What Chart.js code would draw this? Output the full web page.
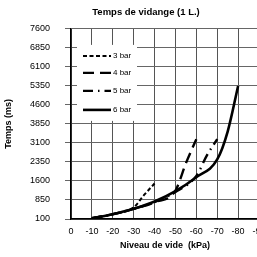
<!DOCTYPE html>
<html>
<head>
<meta charset="utf-8">
<script src="https://cdn.jsdelivr.net/npm/chart.js@4.4.1/dist/chart.umd.min.js"></script>
<style>
  html, body { margin: 0; padding: 0; background: #fff; overflow: hidden; }
  #wrap { width: 292px; height: 257px; }
</style>
</head>
<body>
<div id="wrap"><canvas id="myChart" width="292" height="257"></canvas></div>
<script>
// values (kPa -> ms)
const labels = ['3 bar', '4 bar', '5 bar', '6 bar'];
const vide3 = [-10, -20, -30, -35, -40];
const temps3 = [130, 290, 560, 1050, 1500];
const vide4 = [-10, -20, -30, -40, -50, -55, -60];
const temps4 = [130, 290, 500, 760, 1220, 2300, 3250];
const vide5 = [-10, -20, -30, -40, -50, -60, -65, -70];
const temps5 = [130, 290, 500, 770, 1170, 1800, 2600, 3250];
const vide6 = [-10, -20, -30, -40, -50, -60, -70, -75, -80];
const temps6 = [130, 290, 500, 790, 1200, 1750, 2450, 3550, 5350];
const yTicks = [100, 850, 1600, 2350, 3100, 3850, 4600, 5350, 6100, 6850, 7600];

const FONT = '"Liberation Sans", Arial, sans-serif';

function pts(xs, ys) {
    return xs.map(function(x, i) { return { x: x, y: ys[i] }; });
}

function serie(label, xs, ys, dash, width) {
    return {
        label: label,
        data: pts(xs, ys),
        borderColor: '#000',
        backgroundColor: '#000',
        borderWidth: width,
        borderDash: dash,
        pointRadius: 0,
        fill: false,
        cubicInterpolationMode: 'monotone'
    };
}

// legend drawn inside the plot, in a white box
const legendBox = {
    id: 'legendBox',
    beforeDatasetsDraw: function(chart) {
        const ctx = chart.ctx;
        const a = chart.chartArea;
        const x0 = a.left + 6, y0 = a.top + 16;
        ctx.save();
        ctx.fillStyle = '#fff';
        ctx.fillRect(x0, y0, 60, 76);
        const rows = [11, 28, 46, 65];
        chart.data.datasets.forEach(function(ds, i) {
            const y = y0 + rows[i];
            ctx.strokeStyle = '#000';
            ctx.lineWidth = ds.borderWidth;
            ctx.setLineDash(ds.borderDash || []);
            ctx.beginPath();
            ctx.moveTo(x0 + 6, y);
            ctx.lineTo(x0 + 34, y);
            ctx.stroke();
            ctx.setLineDash([]);
            ctx.fillStyle = '#000';
            ctx.font = '8px ' + FONT;
            ctx.textBaseline = 'middle';
            ctx.fillText(ds.label, x0 + 36, y);
        });
        ctx.restore();
    }
};

new Chart(document.getElementById('myChart'), {
    type: 'line',
    data: {
        datasets: [
            serie(labels[0], vide3, temps3, [4, 2.5], 2),
            serie(labels[1], vide4, temps4, [11, 6], 2.4),
            serie(labels[2], vide5, temps5, [10, 5, 1.5, 5], 2.4),
            serie(labels[3], vide6, temps6, [], 2.6)
        ]
    },
    options: {
        responsive: false,
        animation: false,
        layout: { padding: 0 },
        plugins: {
            legend: { display: false },
            tooltip: { enabled: false },
            title: {
                display: true,
                text: 'Temps de vidange (1 L.)',
                color: '#000',
                font: { family: FONT, size: 9.5, weight: 'bold' },
                padding: { top: 6.5, bottom: 11 }
            }
        },
        scales: {
            x: {
                type: 'linear',
                min: -90,
                max: 0,
                reverse: true,
                afterFit: function(s) { s.height = 38; },
                border: { color: '#000', width: 1.5 },
                grid: { color: '#555', lineWidth: 1, drawTicks: false },
                ticks: {
                    stepSize: 10,
                    color: '#000',
                    padding: 7,
                    maxRotation: 0,
                    font: { family: FONT, size: 9 }
                },
                title: {
                    display: true,
                    text: 'Niveau de vide  (kPa)',
                    color: '#000',
                    font: { family: FONT, size: 9, weight: 'bold' },
                    padding: { top: 0, bottom: 6 }
                }
            },
            y: {
                min: 100,
                max: 7600,
                afterFit: function(s) { s.width = 71; },
                afterBuildTicks: function(s) {
                    s.ticks = yTicks.map(function(v) { return { value: v }; });
                },
                border: { color: '#000', width: 1.5 },
                grid: { color: '#666', lineWidth: 1, tickLength: 6 },
                ticks: {
                    color: '#000',
                    padding: 15,
                    font: { family: FONT, size: 9 },
                    callback: function(v) { return String(v); }
                },
                title: {
                    display: true,
                    text: 'Temps (ms)',
                    color: '#000',
                    font: { family: FONT, size: 9, weight: 'bold' },
                    padding: { top: 3, bottom: 0 }
                }
            },
            // empty space on the right, past the last gridline
            marge: {
                position: 'right',
                display: true,
                afterFit: function(s) { s.width = 33; },
                grid: { display: false },
                border: { display: false },
                ticks: { display: false }
            }
        }
    },
    plugins: [legendBox]
});
</script>
</body>
</html>
